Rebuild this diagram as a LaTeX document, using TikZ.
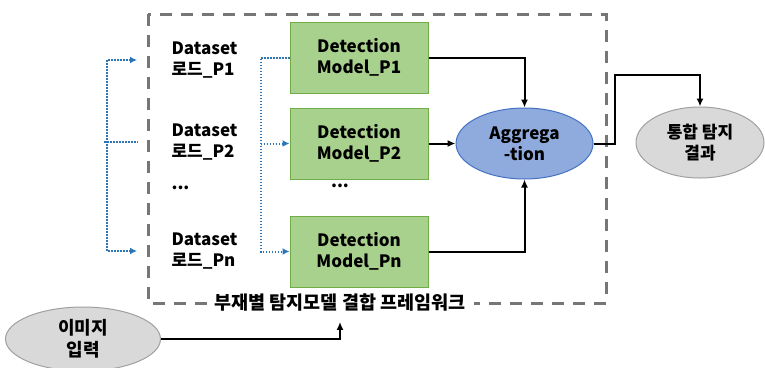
\documentclass[tikz,border=0pt]{standalone}
\usepackage{fontspec}
\setmainfont{Noto Sans CJK KR}
\usepackage{tikz}
\usetikzlibrary{positioning}
\usetikzlibrary{positioning,shapes,arrows.meta}

\definecolor{modelfill}{RGB}{169,209,142}
\definecolor{modelline}{RGB}{112,173,71}
\definecolor{aggfill}{RGB}{143,170,220}
\definecolor{aggline}{RGB}{68,114,196}
\definecolor{greyfill}{RGB}{217,217,217}
\definecolor{greyline}{RGB}{160,160,160}
\definecolor{feedblue}{RGB}{46,117,182}
\definecolor{framegrey}{RGB}{118,118,118}

\tikzset{
	every node/.style={font=\fontsize{17}{21}\selectfont\bfseries},
	model/.style={draw=modelline, fill=modelfill, line width=1pt,
		minimum width=138pt, minimum height=71pt, align=center},
	aggnode/.style={ellipse, draw=aggline, fill=aggfill, line width=1pt,
		minimum width=137pt, minimum height=71pt, inner sep=0pt, align=center},
	greynode/.style={ellipse, draw=greyline, fill=greyfill, line width=1pt,
		inner sep=0pt, align=center},
	dataset/.style={anchor=west, align=left},
	feed/.style={feedblue, line width=2pt, dash pattern=on 1.5pt off 1.5pt},
	flow/.style={-{Latex[length=8pt,width=7pt]}, line width=2pt},
	frame/.style={framegrey, line width=3pt, dash pattern=on 12pt off 9pt},
}

\begin{document}
\begin{tikzpicture}[x=1pt,y=-1pt]
\useasboundingbox (0,0) rectangle (765,367);

% Framework frame
\draw[frame] (148,14) rectangle (606,303);
\node [fill=white,
	inner xsep=8pt,
	inner ysep=2pt,
	font=\fontsize{18.5}{22}\selectfont\bfseries
]  (fwk) at (340,303) {부재별 탐지모델 결합 프레임워크};

% Dataset loaders
\node [dataset] (ds1) at (168,60) {Dataset\\로드\_P1};
\node [dataset] (ds2) at (168,142) {Dataset\\로드\_P2};
\node [dataset] (dsdots) at (168,188) {...};
\node [dataset] (dsn) at (168,251) {Dataset\\로드\_Pn};

% Detection models
\node [model] (m1) at (359,57.5) {Detection\\Model\_P1};
\node [model,
	below = 14pt of m1
]  (m2) {Detection\\Model\_P2};
\node [model,
	below = 36pt of m2
]  (mn) {Detection\\Model\_Pn};
\node (mdots) at (340,186) {...};

% Aggregation
\node [aggnode,
	right = 27pt of m2
]  (agg) {Aggrega\\-tion};

% Result
\node [greynode,
	minimum width=128pt,
	minimum height=71pt
]  (res) at (700,142.5) {통합 탐지\\결과};

% Image input
\node [greynode,
	minimum width=155pt,
	minimum height=64pt,
	font=\fontsize{18}{22}\selectfont\bfseries
]  (img) at (83,339) {이미지\\입력};

% Dotted feeds
\draw[feed, {Latex[length=7pt,width=7pt]}-{Latex[length=7pt,width=7pt]}]
	([xshift=-31pt]ds1.west) -| ([xshift=-61pt]dsn.west) -- ([xshift=-31pt]dsn.west);
\draw[feed] ([xshift=-64pt]ds2.west) -- ([xshift=-30pt]ds2.west);
\draw[feed, -{Latex[length=7pt,width=7pt]}]
	(m1.west) -| ([xshift=-29pt]mn.west) -- (mn.west);
\draw[feed, -{Latex[length=7pt,width=7pt]}] ([xshift=-29pt]m2.west) -- (m2.west);

% Arrows
\draw[flow] (m1.east) -| (agg.north);
\draw[flow] (m2.east) -- (agg.west);
\draw[flow] (mn.east) -| (agg.south);
\draw[flow] (agg.east) -- ++(21,0) |- ([yshift=32pt]res.north) -- (res.north);
\draw[flow] (img.east) -| ([yshift=-8pt]fwk.south);

\end{tikzpicture}
\end{document}
